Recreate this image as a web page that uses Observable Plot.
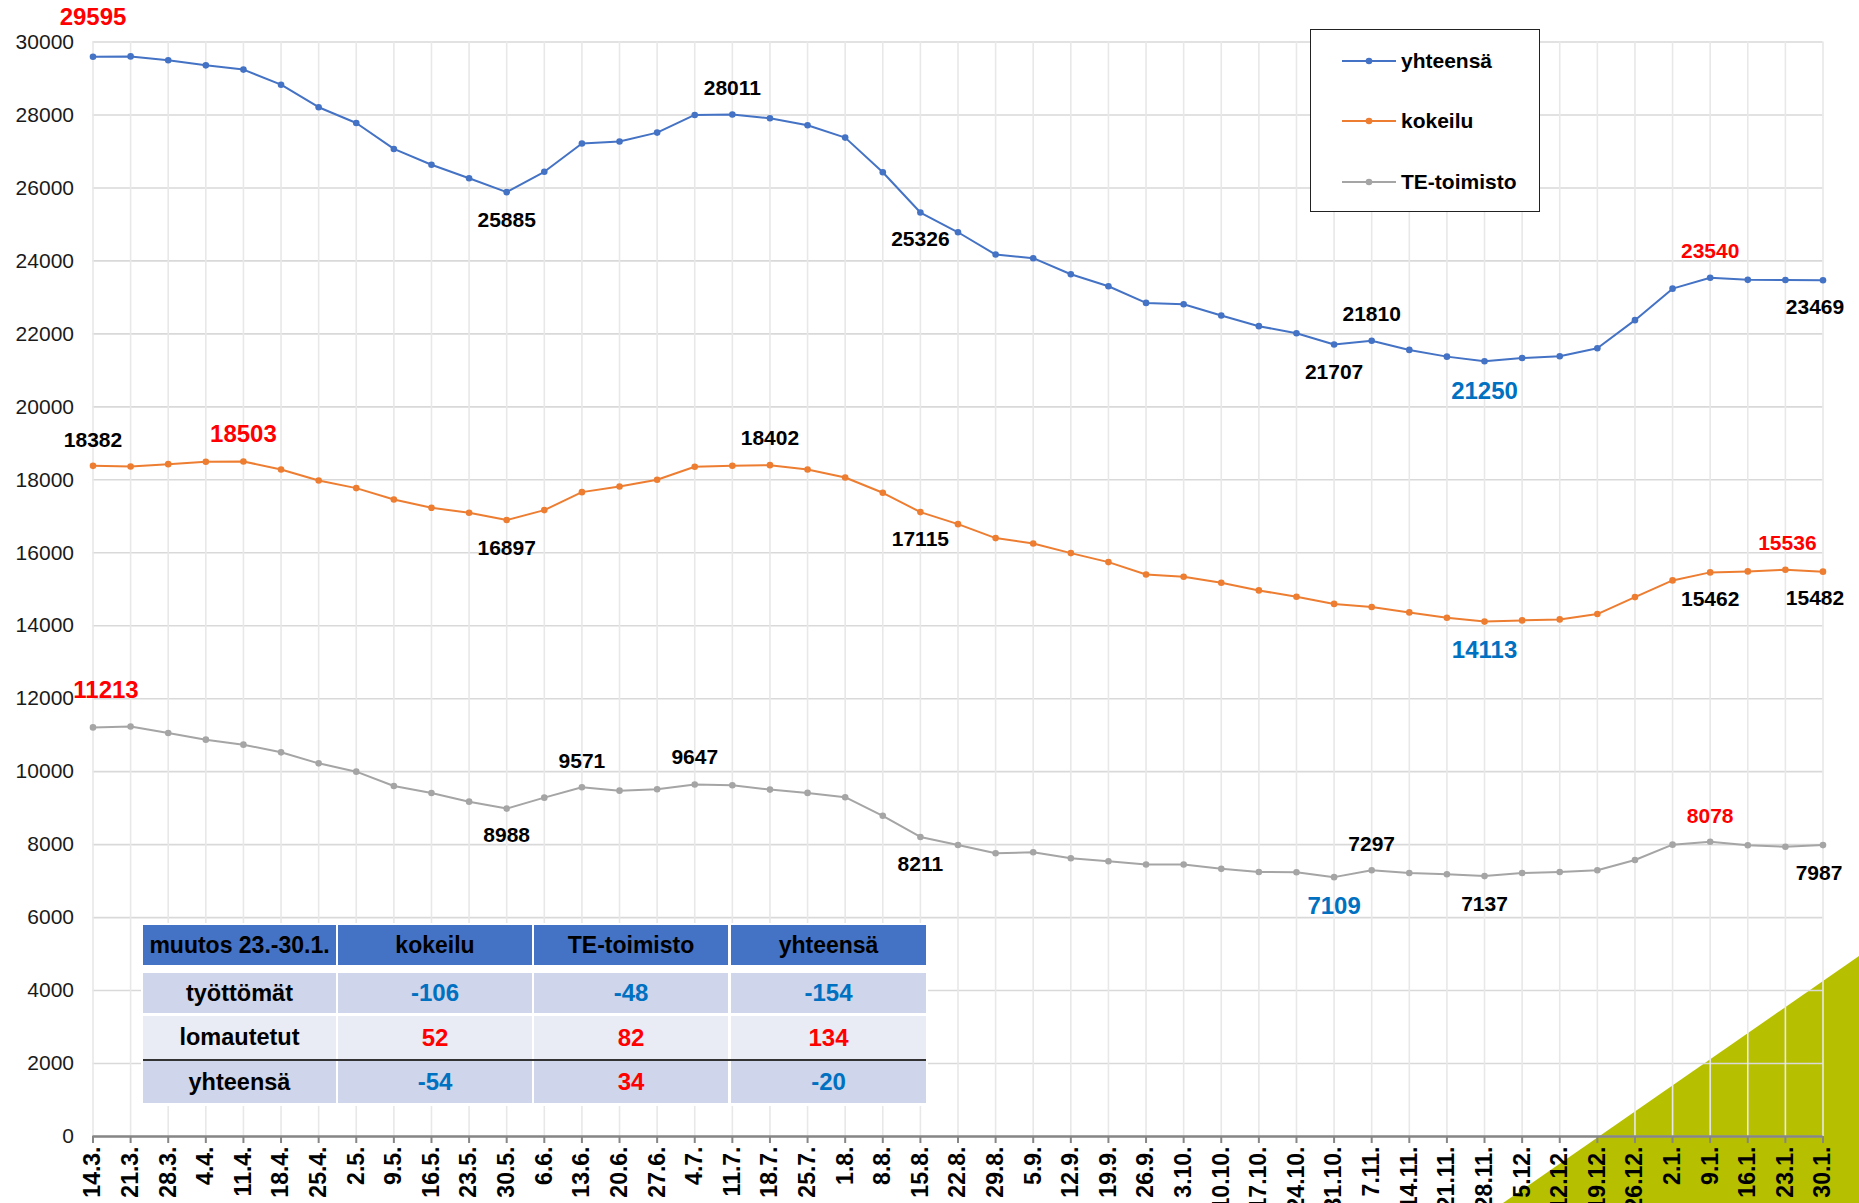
<!DOCTYPE html>
<html>
<head>
<meta charset="utf-8">
<script src="https://cdn.jsdelivr.net/npm/d3@7"></script>
<script src="https://cdn.jsdelivr.net/npm/@observablehq/plot@0.6"></script>
<style>
  html, body { margin: 0; padding: 0; background: #fff; }
  body { width: 1859px; height: 1203px; overflow: hidden; position: relative;
         font-family: "Liberation Sans", Arial, sans-serif; }
  #bg { position: absolute; left: 0; top: 0; width: 1859px; height: 1203px; background: #b6bf00;
        clip-path: polygon(1503px 1203px, 1859px 956px, 1859px 1203px); }
  #chart { position: absolute; left: 0; top: 0; }
  .legend { position: absolute; left: 1310px; top: 29px; width: 230px; height: 183px; box-sizing: border-box;
            border: 1.5px solid #222; background: #fff; }
  .legend .item { position: absolute; left: 31px; height: 24px; display: flex; align-items: center;
                  font-weight: bold; font-size: 21px; color: #000; }
  .legend svg { margin-right: 5px; }
  .tbl { position: absolute; left: 141px; top: 923px; width: 787px; height: 183px; background: #fff; }
  .cell { position: absolute; display: flex; align-items: center; justify-content: center;
          font-weight: bold; font-size: 23px; color: #000; }
  .rule { position: absolute; height: 2px; background: #333; }
</style>
</head>
<body>
<div id="bg"></div>
<div id="chart"></div>
<div class="legend" id="legend"></div>
<div class="tbl" id="tbl"></div>
<script>
// ---------- data ----------
const dates = ["14.3.","21.3.","28.3.","4.4.","11.4.","18.4.","25.4.","2.5.","9.5.","16.5.","23.5.","30.5.",
  "6.6.","13.6.","20.6.","27.6.","4.7.","11.7.","18.7.","25.7.","1.8.","8.8.","15.8.","22.8.","29.8.",
  "5.9.","12.9.","19.9.","26.9.","3.10.","10.10.","17.10.","24.10.","31.10.","7.11.","14.11.","21.11.",
  "28.11.","5.12.","12.12.","19.12.","26.12.","2.1.","9.1.","16.1.","23.1.","30.1."];

const yhteensa = [29595, 29605, 29500, 29360, 29244, 28830, 28212, 27779, 27069, 26636, 26267, 25885,
  26442, 27217, 27272, 27516, 28000, 28011, 27909, 27717, 27379, 26429, 25326, 24785, 24174,
  24074, 23635, 23306, 22849, 22813, 22502, 22211, 22018, 21707, 21810, 21560, 21376,
  21250, 21339, 21385, 21606, 22376, 23239, 23540, 23480, 23475, 23469];

const kokeilu = [18382, 18365, 18429, 18495, 18503, 18283, 17982, 17772, 17461, 17233, 17096, 16897,
  17169, 17662, 17817, 18000, 18356, 18385, 18402, 18283, 18064, 17644, 17115, 16785, 16402,
  16256, 15991, 15744, 15406, 15342, 15178, 14968, 14795, 14598, 14513, 14365, 14219,
  14113, 14146, 14174, 14320, 14785, 15242, 15462, 15489, 15536, 15482];

const teToimisto = [11213, 11240, 11059, 10877, 10740, 10530, 10228, 10000, 9607, 9416, 9178, 8988,
  9288, 9571, 9479, 9518, 9647, 9626, 9509, 9418, 9300, 8791, 8211, 7991, 7764,
  7791, 7627, 7545, 7455, 7455, 7336, 7251, 7242, 7109, 7297, 7224, 7187,
  7137, 7224, 7251, 7297, 7580, 8000, 8078, 7982, 7940, 7987];

const seriesNames = ["yhteensä", "kokeilu", "TE-toimisto"];
const yTicks = [0, 2000, 4000, 6000, 8000, 10000, 12000, 14000, 16000, 18000, 20000, 22000, 24000, 26000, 28000, 30000];

// value labels: [series, date, kind]
const annotations = [
  ["yhteensä", "14.3.", "high"], ["yhteensä", "30.5.", "plain"], ["yhteensä", "11.7.", "plain"],
  ["yhteensä", "15.8.", "plain"], ["yhteensä", "31.10.", "plain"], ["yhteensä", "7.11.", "plain"],
  ["yhteensä", "28.11.", "low"], ["yhteensä", "9.1.", "newHigh"], ["yhteensä", "30.1.", "plain"],
  ["kokeilu", "14.3.", "plain"], ["kokeilu", "11.4.", "high"], ["kokeilu", "30.5.", "plain"],
  ["kokeilu", "18.7.", "plain"], ["kokeilu", "15.8.", "plain"], ["kokeilu", "28.11.", "low"],
  ["kokeilu", "9.1.", "plain"], ["kokeilu", "23.1.", "newHigh"], ["kokeilu", "30.1.", "plain"],
  ["TE-toimisto", "14.3.", "high"], ["TE-toimisto", "30.5.", "plain"], ["TE-toimisto", "13.6.", "plain"],
  ["TE-toimisto", "4.7.", "plain"], ["TE-toimisto", "15.8.", "plain"], ["TE-toimisto", "31.10.", "low"],
  ["TE-toimisto", "7.11.", "plain"], ["TE-toimisto", "28.11.", "plain"], ["TE-toimisto", "9.1.", "newHigh"],
  ["TE-toimisto", "30.1.", "plain"]
];

// change table
const tableHeader = ["muutos 23.-30.1.", "kokeilu", "TE-toimisto", "yhteensä"];
const tableRowLabels = ["työttömät", "lomautetut", "yhteensä"];
const changeKokeilu = [-106, 52, -54];
const changeTE = [-48, 82, 34];
const changeTotal = [-154, 134, -20];

// ---------- styling ----------
const colors = ["#4472c4", "#ed7d31", "#a5a5a5"];
const seriesValues = { "yhteensä": yhteensa, "kokeilu": kokeilu, "TE-toimisto": teToimisto };
const kindStyle = {
  high:    { fill: "#ff0000", fontSize: 24 },
  newHigh: { fill: "#ff0000", fontSize: 21 },
  low:     { fill: "#0070c0", fontSize: 24 },
  plain:   { fill: "#000000", fontSize: 21 }
};
const offsets = {
  "yhteensä|14.3.": [0, -39], "yhteensä|30.5.": [0, 28], "yhteensä|11.7.": [0, -26],
  "yhteensä|15.8.": [0, 27], "yhteensä|31.10.": [0, 28], "yhteensä|7.11.": [0, -27],
  "yhteensä|28.11.": [0, 30], "yhteensä|9.1.": [0, -26], "yhteensä|30.1.": [-8, 27],
  "kokeilu|14.3.": [0, -26], "kokeilu|11.4.": [0, -27], "kokeilu|30.5.": [0, 28],
  "kokeilu|18.7.": [0, -27], "kokeilu|15.8.": [0, 27], "kokeilu|28.11.": [0, 29],
  "kokeilu|9.1.": [0, 27], "kokeilu|23.1.": [2, -26], "kokeilu|30.1.": [-8, 27],
  "TE-toimisto|14.3.": [13, -37], "TE-toimisto|30.5.": [0, 27], "TE-toimisto|13.6.": [0, -26],
  "TE-toimisto|4.7.": [0, -27], "TE-toimisto|15.8.": [0, 27], "TE-toimisto|31.10.": [0, 29],
  "TE-toimisto|7.11.": [0, -26], "TE-toimisto|28.11.": [0, 28], "TE-toimisto|9.1.": [0, -26],
  "TE-toimisto|30.1.": [-4, 28]
};

// ---------- build ----------
const rows = [];
seriesNames.forEach(s => dates.forEach((d, i) => rows.push({ date: d, series: s, value: seriesValues[s][i] })));

const labelMarks = annotations.map(([s, d, kind]) => {
  const datum = { date: d, series: s, value: seriesValues[s][dates.indexOf(d)] };
  const [dx, dy] = offsets[s + "|" + d];
  return Plot.text([datum], {
    x: "date", y: "value", text: v => String(v.value),
    dx, dy, fill: kindStyle[kind].fill, fontSize: kindStyle[kind].fontSize, fontWeight: "bold"
  });
});

const chart = Plot.plot({
  width: 1859, height: 1203,
  marginLeft: 92.5, marginRight: 36.5, marginTop: 41.5, marginBottom: 67,
  x: { type: "point", domain: dates, padding: 0, round: false },
  y: { domain: [0, 30000] },
  color: { domain: seriesNames, range: colors },
  style: { fontFamily: "'Liberation Sans', Arial, sans-serif", background: "transparent", color: "#000", overflow: "visible" },
  marks: [
    Plot.ruleY(yTicks, { stroke: "#d9d9d9", strokeWidth: 1.6 }),
    Plot.ruleX(dates, { stroke: "#e8e8e8", strokeWidth: 1.6 }),
    Plot.ruleY([0], { stroke: "#868686", strokeWidth: 2.4 }),
    Plot.axisX({ tickRotate: -90, tickSize: 7, tickPadding: 3, fontSize: 23, fontWeight: "bold",
                 stroke: "#868686", strokeWidth: 2, fill: "#000", label: null, tickFormat: d => d }),
    Plot.axisY({ ticks: yTicks, tickSize: 0, tickPadding: 19, fontSize: 21, fill: "#1a1a1a", label: null, tickFormat: d => String(d) }),
    Plot.line(rows, { x: "date", y: "value", z: "series", stroke: "series", strokeWidth: 2 }),
    Plot.dot(rows, { x: "date", y: "value", fill: "series", r: 3.3 }),
    ...labelMarks
  ]
});
document.getElementById("chart").appendChild(chart);

// ---------- legend ----------
const legend = document.getElementById("legend");
const legendCenters = [31, 91, 152];
seriesNames.forEach((s, i) => {
  const item = document.createElement("div");
  item.className = "item";
  item.style.top = (legendCenters[i] - 12) + "px";
  item.innerHTML = `<svg width="54" height="10"><line x1="0" y1="5" x2="54" y2="5" stroke="${colors[i]}" stroke-width="2"/>` +
    `<circle cx="27" cy="5" r="3.3" fill="${colors[i]}"/></svg><span>${s}</span>`;
  legend.appendChild(item);
});

// ---------- table ----------
const tbl = document.getElementById("tbl");
const colX = [2, 197, 393, 590];
const colW = [193, 194, 194, 195];
const rowY = [2, 50, 93, 138];
const rowH = [40, 40, 43, 42];
const rowBg = ["#cfd5ea", "#e9ebf5", "#cfd5ea"];
function cell(x, y, w, h, bg, text, color, size) {
  const c = document.createElement("div");
  c.className = "cell";
  Object.assign(c.style, { left: x + "px", top: y + "px", width: w + "px", height: h + "px", background: bg, color, fontSize: size + "px" });
  c.textContent = text;
  tbl.appendChild(c);
}
tableHeader.forEach((t, j) => cell(colX[j], rowY[0], colW[j], rowH[0], "#4472c4", t, "#000", 23));
const cols = [changeKokeilu, changeTE, changeTotal];
tableRowLabels.forEach((lab, i) => {
  cell(colX[0], rowY[i + 1], colW[0], rowH[i + 1], rowBg[i], lab, "#000", 23.5);
  cols.forEach((arr, j) => {
    const v = arr[i];
    cell(colX[j + 1], rowY[i + 1], colW[j + 1], rowH[i + 1], rowBg[i], String(v), v < 0 ? "#0070c0" : "#ff0000", 24);
  });
});
const rl = document.createElement("div");
rl.className = "rule";
Object.assign(rl.style, { left: "2px", top: "136px", width: "783px" });
tbl.appendChild(rl);
</script>
</body>
</html>
